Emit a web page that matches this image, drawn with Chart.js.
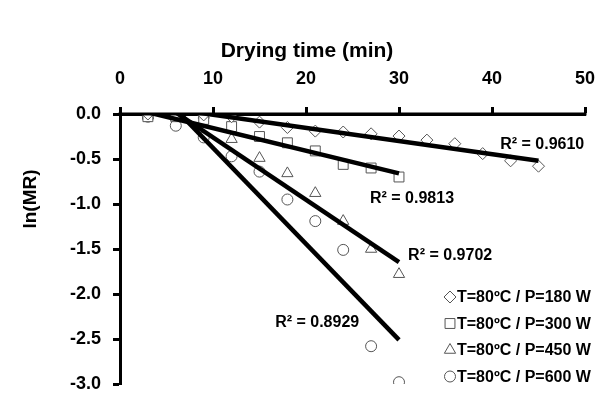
<!DOCTYPE html>
<html>
<head>
<meta charset="utf-8">
<script src="https://cdn.jsdelivr.net/npm/chart.js@4.4.1/dist/chart.umd.min.js"></script>
<style>
  html, body { margin: 0; padding: 0; background: #fff; }
</style>
</head>
<body>
<canvas id="chart" width="608" height="394"></canvas>
<script>
// ln(MR) vs drying time, T=80ºC, four microwave powers
const seriesNames = ['T=80ºC / P=180 W', 'T=80ºC / P=300 W', 'T=80ºC / P=450 W', 'T=80ºC / P=600 W'];

const time180 = [3, 6, 9, 12, 15, 18, 21, 24, 27, 30, 33, 36, 39, 42, 45];
const lnMR180 = [0.0, -0.01, -0.01, -0.03, -0.09, -0.15, -0.19, -0.2, -0.22, -0.245, -0.29, -0.33, -0.44, -0.52, -0.58];

const time300 = [3, 6, 9, 12, 15, 18, 21, 24, 27, 30];
const lnMR300 = [-0.03, -0.03, -0.06, -0.14, -0.25, -0.32, -0.41, -0.56, -0.6, -0.7];

const time450 = [3, 6, 9, 12, 15, 18, 21, 24, 27, 30];
const lnMR450 = [-0.02, -0.03, -0.01, -0.28, -0.49, -0.66, -0.88, -1.19, -1.5, -1.78];

const time600 = [3, 6, 9, 12, 15, 18, 21, 24, 27, 30];
const lnMR600 = [-0.03, -0.13, -0.26, -0.47, -0.64, -0.95, -1.19, -1.51, -2.58, -2.98];

// linear trendlines (start / end of fitted line)
const trendX180 = [3, 45];
const trendY180 = [0.094, -0.52];
const trendX300 = [3, 30];
const trendY300 = [0.02, -0.66];
const trendX450 = [3, 30];
const trendY450 = [0.225, -1.645];
const trendX600 = [3, 30];
const trendY600 = [0.37, -2.51];

const r2Texts = ['R² = 0.9610', 'R² = 0.9813', 'R² = 0.9702', 'R² = 0.8929'];

const xTicks = [0, 10, 20, 30, 40, 50];
const yTicks = [0, -0.5, -1, -1.5, -2, -2.5, -3];

const markerStyles = ['rectRot', 'rect', 'triangle', 'circle'];
const markerSizes = [6, 7, 6.5, 5.5];
const markerColor = '#555';

function pts(xs, ys) {
  return xs.map((x, i) => ({ x: x, y: ys[i] }));
}

const scatterSets = [
  [time180, lnMR180], [time300, lnMR300], [time450, lnMR450], [time600, lnMR600]
].map((s, i) => ({
  type: 'scatter',
  label: seriesNames[i],
  data: pts(s[0], s[1]),
  pointStyle: markerStyles[i],
  pointRadius: markerSizes[i],
  pointBorderColor: markerColor,
  pointBackgroundColor: '#fff',
  pointBorderWidth: 1
}));

const trendSets = [
  [trendX180, trendY180], [trendX300, trendY300], [trendX450, trendY450], [trendX600, trendY600]
].map(t => ({
  type: 'line',
  data: pts(t[0], t[1]),
  borderColor: '#000',
  borderWidth: 4.5,
  pointRadius: 0,
  fill: false,
  clip: 0
}));

// where the R² notes sit, in data units
const r2Anchors = [[45.4, -0.34], [31.4, -0.94], [35.5, -1.57], [21.2, -2.32]];

const fontFam = '"Liberation Sans", Arial, sans-serif';

const extras = {
  id: 'extras',
  afterDraw(chart) {
    const ctx = chart.ctx;
    const xs = chart.scales.x, ys = chart.scales.y;
    const area = chart.chartArea;
    ctx.save();
    // top axis line, drawn over everything so the trendline ends tuck under it
    ctx.strokeStyle = '#000';
    ctx.lineWidth = 3;
    ctx.beginPath();
    ctx.moveTo(area.left - 1.5, area.top);
    ctx.lineTo(area.right + 1.5, area.top);
    ctx.stroke();

    ctx.fillStyle = '#000';
    ctx.textBaseline = 'middle';

    // axis titles
    ctx.font = 'bold 21px ' + fontFam;
    ctx.textAlign = 'center';
    ctx.fillText('Drying time (min)', 307, 51);
    ctx.save();
    ctx.translate(31, 199);
    ctx.rotate(-Math.PI / 2);
    ctx.font = 'bold 19px ' + fontFam;
    ctx.fillText('ln(MR)', 0, 0);
    ctx.restore();

    // R² notes
    ctx.font = 'bold 16px ' + fontFam;
    r2Texts.forEach((t, i) => {
      ctx.fillText(t, xs.getPixelForValue(r2Anchors[i][0]), ys.getPixelForValue(r2Anchors[i][1]));
    });

    // legend
    ctx.textAlign = 'left';
    ctx.font = 'bold 16px ' + fontFam;
    const lx = 450, ly = 297, step = 26.5;
    seriesNames.forEach((name, i) => {
      const y = ly + i * step;
      ctx.strokeStyle = markerColor;
      ctx.fillStyle = '#fff';
      ctx.lineWidth = 1;
      Chart.helpers.drawPoint(ctx, { pointStyle: markerStyles[i], radius: markerSizes[i], borderWidth: 1, rotation: 0 }, lx, y);
      ctx.fillStyle = '#000';
      ctx.fillText(name, lx + 7, y + 1);
    });
    ctx.restore();
  }
};

new Chart(document.getElementById('chart'), {
  data: { datasets: trendSets.concat(scatterSets) },
  options: {
    responsive: false,
    animation: false,
    devicePixelRatio: 1,
    layout: { padding: { left: 0, top: 0, right: 23, bottom: 10 } },
    plugins: { legend: { display: false }, tooltip: { enabled: false } },
    scales: {
      x: {
        type: 'linear',
        position: 'top',
        min: 0,
        max: 50,
        afterBuildTicks: s => { s.ticks = xTicks.map(v => ({ value: v })); },
        afterFit: s => { s.height = 114; s.paddingLeft = 0; s.paddingRight = 0; },
        border: { color: '#000', width: 3 },
        grid: { drawOnChartArea: false, drawTicks: true, tickLength: 7, tickWidth: 3, tickColor: '#000' },
        ticks: { color: '#000', font: { family: fontFam, size: 18, weight: 'bold' }, padding: 17, maxRotation: 0 }
      },
      y: {
        type: 'linear',
        min: -3,
        max: 0,
        afterBuildTicks: s => { s.ticks = yTicks.map(v => ({ value: v })); },
        afterFit: s => { s.width = 120; s.paddingTop = 0; s.paddingBottom = 0; },
        border: { color: '#000', width: 3 },
        grid: { drawOnChartArea: false, drawTicks: true, tickLength: 7, tickWidth: 3, tickColor: '#000' },
        ticks: { color: '#000', font: { family: fontFam, size: 18, weight: 'bold' }, padding: 12, callback: v => v.toFixed(1) }
      }
    }
  },
  plugins: [extras]
});
</script>
</body>
</html>
